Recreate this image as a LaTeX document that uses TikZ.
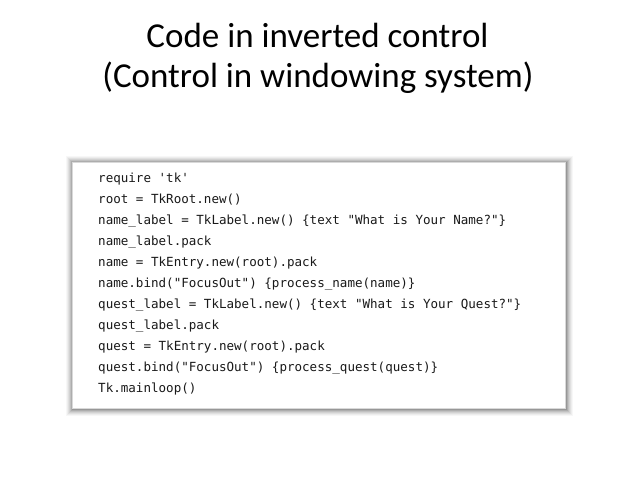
\documentclass[tikz,border=0pt]{standalone}
\usepackage{fontspec}
\setmainfont{Carlito}
\newfontfamily\codefont{DejaVu Sans Mono}
\begin{document}
\begin{tikzpicture}[x=1pt,y=1pt,
  titletext/.style={font=\fontsize{35}{42}\selectfont, anchor=base, inner sep=0pt},
  codeline/.style={font=\codefont\fontsize{12.55}{14}\selectfont, anchor=base west, inner sep=0pt, text=black!90}]
\useasboundingbox (0,0) rectangle (638,479);
\fill[white] (0,0) rectangle (638,479);
% title
\node[titletext] (t1) at (317.5,479-48) {Code in inverted control};
\node[titletext] (t2) at (318,479-88) {(Control in windowing system)};
% shadow
\foreach \i/\o in {7/0.03,6/0.04,5/0.05,4/0.06,3/0.08,2/0.10,1/0.12}{
  \fill[black,opacity=\o] (72-\i+1,479-408-\i-1) rectangle (565+\i+1,479-162+\i-1);
}
\node[draw=black!15, line width=0.5pt, fill=white, minimum width=493pt, minimum height=246pt, inner sep=0pt, anchor=north west] (box) at (72,479-162) {};
% code
\foreach \n/\t in {0/{require 'tk'},
  1/{root = TkRoot.new()},
  2/{name\_label = TkLabel.new() \{text "What is Your Name?"\}},
  3/{name\_label.pack},
  4/{name = TkEntry.new(root).pack},
  5/{name.bind("FocusOut") \{process\_name(name)\}},
  6/{quest\_label = TkLabel.new() \{text "What is Your Quest?"\}},
  7/{quest\_label.pack},
  8/{quest = TkEntry.new(root).pack},
  9/{quest.bind("FocusOut") \{process\_quest(quest)\}},
  10/{Tk.mainloop()}}{
  \node[codeline] (c\n) at (98,479-183-20.95*\n) {\t};
}
\end{tikzpicture}
\end{document}
